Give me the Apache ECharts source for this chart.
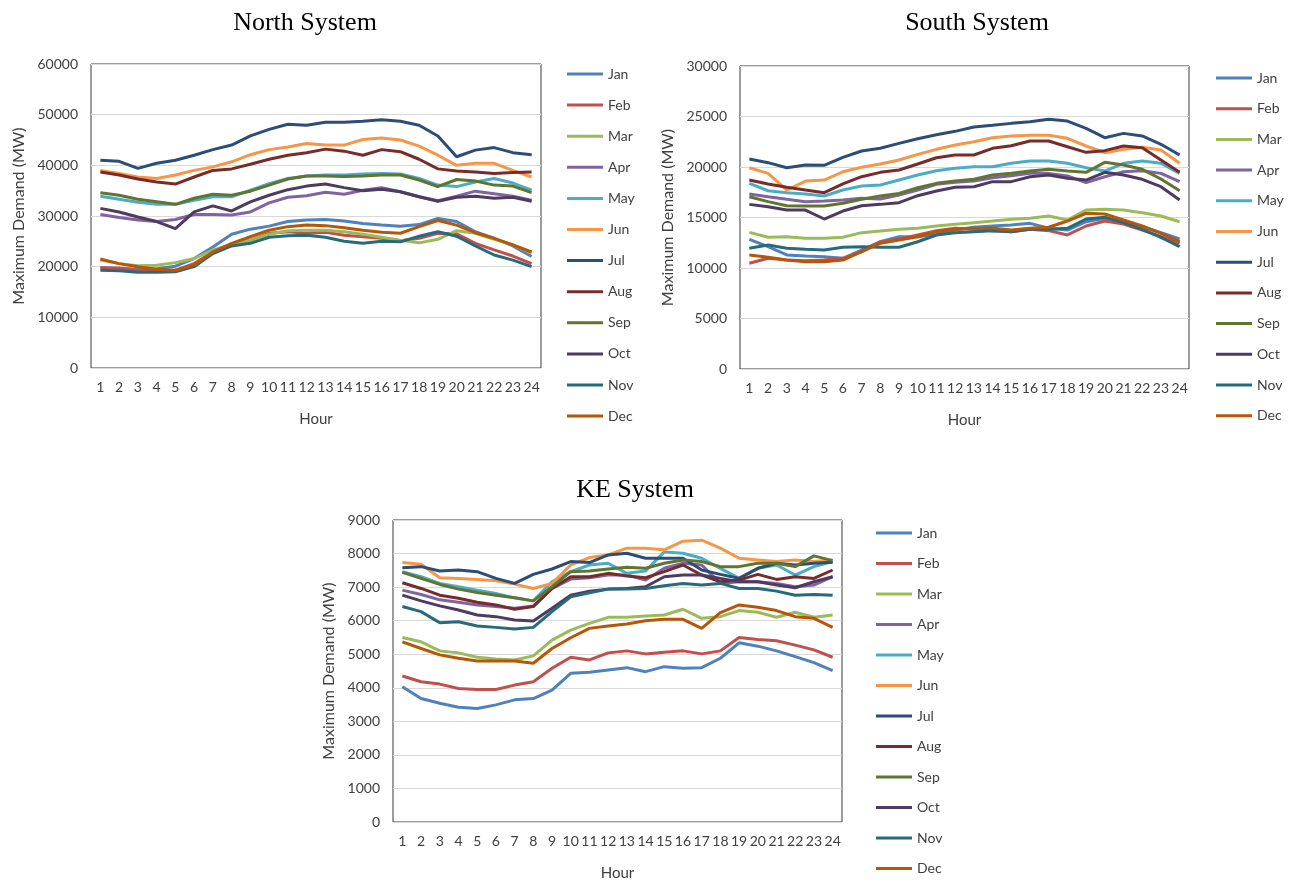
<!DOCTYPE html>
<html>
<head>
<meta charset="utf-8">
<title>Hourly Maximum Demand by Month</title>
<script src="https://cdn.jsdelivr.net/npm/echarts@6/dist/echarts.min.js"></script>
<style>
  html, body { margin: 0; padding: 0; background: #ffffff; }
  #chart { width: 1304px; height: 882px; }
</style>
</head>
<body>
<div id="chart"></div>
<script>
// Hour-of-day tick labels and month names
const hours = ['1','2','3','4','5','6','7','8','9','10','11','12','13','14','15','16','17','18','19','20','21','22','23','24'];
const months = ['Jan','Feb','Mar','Apr','May','Jun','Jul','Aug','Sep','Oct','Nov','Dec'];
const monthColors = ['#4F81BD','#C0504D','#9BBB59','#8064A2','#4BACC6','#F79646','#2C4D75','#772C2A','#5F7530','#4D3B62','#276A7C','#B65708'];

// North System, MW
const northJan = [19800,19700,19500,19600,20100,21600,23900,26400,27400,28000,28900,29200,29300,29000,28500,28200,28000,28300,29500,28900,26900,25600,24100,22000];
const northFeb = [19800,19700,19300,19200,19300,20600,22900,24300,25200,26600,26900,26600,26800,26200,25900,25600,25100,25600,26600,26500,24600,23300,22100,20600];
const northMar = [21300,20600,20200,20300,20800,21600,23300,24300,25200,26400,27100,27200,27200,26900,26400,25800,25200,24700,25400,27100,26600,25400,24300,22700];
const northApr = [30300,29700,29200,28900,29300,30300,30300,30200,30800,32600,33700,34000,34700,34300,35100,35600,34800,33800,33000,33900,34900,34400,33900,33100];
const northMay = [33900,33300,32700,32300,32300,33100,33800,33800,35100,36400,37400,37900,38100,38100,38300,38400,38300,37400,36100,35800,36700,37400,36500,35100];
const northJun = [39000,38400,37700,37400,38100,39000,39700,40700,42100,43100,43600,44300,44000,44000,45100,45400,45000,43800,42000,40000,40400,40400,39000,37700];
const northJul = [41000,40800,39400,40400,41000,42000,43100,44000,45800,47100,48100,47900,48500,48500,48700,49000,48700,47900,45800,41700,43000,43500,42500,42100];
const northAug = [38700,38100,37300,36700,36300,37700,39000,39300,40200,41200,42000,42500,43200,42800,42000,43100,42700,41200,39300,38900,38700,38400,38600,38700];
const northSep = [34600,34100,33300,32800,32300,33500,34300,34100,34900,36100,37300,37900,37900,37800,37900,38100,38100,37100,35800,37200,36900,36100,35900,34600];
const northOct = [31500,30800,29800,28900,27500,30800,32000,31000,32800,34100,35200,35900,36300,35600,35000,35300,34800,33800,32900,33700,33900,33500,33700,32900];
const northNov = [19300,19200,18900,18900,19000,20000,22600,24100,24600,25800,26100,26200,25800,25000,24600,25000,24900,26000,26900,26000,24100,22300,21300,20000];
const northDec = [21500,20600,20000,19500,19300,20300,22900,24600,25900,27200,27900,28200,28100,27700,27200,26800,26600,27900,29100,28200,26700,25600,24300,22900];

// South System, MW
const southJan = [12840,12110,11290,11190,11120,10960,11780,12600,13100,13100,13330,13760,14030,14160,14260,14420,13930,13760,14580,14920,14580,14090,13500,12870];
const southFeb = [10470,10960,10790,10720,10790,10960,11610,12600,12840,13270,13700,13930,13830,13700,13600,13830,13700,13270,14160,14650,14360,13760,13100,12440];
const southMar = [13530,13040,13100,12940,12940,13040,13500,13660,13830,13930,14160,14330,14490,14650,14820,14920,15150,14750,15740,15810,15740,15480,15150,14580];
const southApr = [17330,17060,16800,16570,16640,16730,16900,16830,17230,17720,18290,18480,18610,18940,19140,19370,19370,19110,18450,19040,19530,19630,19370,18550];
const southMay = [18380,17650,17460,17330,17130,17720,18120,18220,18710,19210,19630,19870,20030,20030,20370,20590,20590,20370,19930,19600,20370,20590,20370,19370];
const southJun = [19930,19370,17720,18610,18710,19530,19970,20300,20690,21250,21750,22180,22500,22900,23070,23140,23140,22840,22080,21420,21750,21950,21680,20370];
const southJul = [20790,20430,19930,20200,20170,20960,21580,21850,22340,22800,23200,23530,23960,24130,24320,24490,24720,24550,23830,22900,23330,23070,22250,21190];
const southAug = [18710,18320,17990,17720,17460,18320,19040,19470,19700,20300,20920,21190,21190,21850,22110,22570,22570,22010,21450,21620,22080,21910,20690,19470];
const southSep = [17060,16570,16170,16140,16140,16410,16800,17130,17390,17950,18380,18610,18780,19210,19370,19600,19770,19600,19470,20460,20200,19770,18810,17650];
const southOct = [16300,16070,15740,15740,14850,15640,16170,16300,16470,17160,17620,17990,18050,18550,18550,19040,19210,18880,18710,19470,19210,18780,18050,16730];
const southNov = [11950,12280,11950,11850,11780,12050,12110,12050,12050,12600,13270,13500,13600,13700,13600,13830,13830,13930,14850,15020,14490,13830,13040,12110];
const southDec = [11290,11060,10790,10620,10620,10790,11610,12440,12770,13100,13600,13830,13930,13930,13760,13930,14030,14650,15420,15350,14750,14160,13430,12600];

// KE System, MW
const keJan = [4030,3680,3540,3420,3380,3490,3640,3680,3930,4430,4460,4530,4600,4480,4630,4580,4600,4880,5340,5240,5100,4930,4750,4510];
const keFeb = [4350,4180,4110,3980,3950,3950,4080,4180,4580,4910,4830,5040,5100,5010,5060,5100,5010,5100,5500,5440,5400,5270,5130,4910];
const keMar = [5500,5370,5100,5040,4910,4860,4830,4950,5420,5720,5920,6100,6100,6140,6170,6340,6070,6120,6300,6250,6100,6250,6100,6170];
const keApr = [6910,6780,6620,6550,6470,6420,6370,6440,6960,7240,7280,7360,7360,7210,7560,7710,7660,7110,7160,7160,7110,7010,7060,7310];
const keMay = [7460,7310,7110,7010,6910,6810,6680,6590,7160,7460,7660,7710,7410,7480,8050,8010,7860,7560,7260,7560,7660,7360,7610,7760];
const keJun = [7730,7680,7280,7260,7230,7190,7090,6960,7110,7660,7880,7960,8160,8160,8110,8370,8400,8160,7860,7810,7760,7810,7760,7810];
const keJul = [7580,7610,7480,7510,7460,7260,7110,7380,7540,7760,7730,7960,8010,7860,7860,7860,7510,7380,7260,7560,7710,7660,7710,7740];
const keAug = [7130,6960,6760,6670,6550,6470,6340,6420,6960,7310,7310,7410,7330,7280,7460,7660,7360,7160,7210,7380,7230,7310,7260,7510];
const keSep = [7440,7260,7080,6940,6840,6760,6680,6590,7010,7460,7480,7540,7590,7560,7710,7810,7760,7610,7610,7710,7710,7610,7930,7790];
const keOct = [6760,6590,6440,6320,6170,6120,6020,5990,6370,6760,6880,6940,6960,7010,7310,7360,7360,7260,7160,7160,7060,6980,7160,7310];
const keNov = [6420,6270,5940,5970,5840,5800,5750,5800,6270,6710,6830,6940,6940,6960,7040,7110,7060,7110,6960,6960,6880,6760,6780,6760];
const keDec = [5370,5170,4980,4880,4800,4800,4800,4730,5170,5490,5770,5840,5900,6000,6040,6040,5770,6240,6470,6400,6300,6120,6070,5800];

const northData = [northJan, northFeb, northMar, northApr, northMay, northJun, northJul, northAug, northSep, northOct, northNov, northDec];
const southData = [southJan, southFeb, southMar, southApr, southMay, southJun, southJul, southAug, southSep, southOct, southNov, southDec];
const keData = [keJan, keFeb, keMar, keApr, keMay, keJun, keJul, keAug, keSep, keOct, keNov, keDec];

const FONT = 'Lato, "Open Sans", sans-serif';
const TEXT = '#404040';

// Panel layout: plot rectangle, y range, title and legend positions
const panels = [
  { title: 'North System', data: northData, grid: { left: 91, top: 64, width: 450, height: 304 }, max: 60000, interval: 10000,
    titleX: 300, titleY: 5, legendLeft: 567, legendTop: 66, legendGap: 15.1, nameGap: 64 },
  { title: 'South System', data: southData, grid: { left: 740, top: 66, width: 449, height: 303 }, max: 30000, interval: 5000,
    titleX: 972, titleY: 5, legendLeft: 1216, legendTop: 70, legendGap: 14.7, nameGap: 64 },
  { title: 'KE System', data: keData, grid: { left: 393, top: 520, width: 449, height: 302 }, max: 9000, interval: 1000,
    titleX: 630, titleY: 472, legendLeft: 876, legendTop: 525, legendGap: 14.5, nameGap: 56 }
];

const option = {
  backgroundColor: '#ffffff',
  animation: false,
  color: monthColors,
  title: [], legend: [], grid: [], xAxis: [], yAxis: [], series: []
};

panels.forEach((p, i) => {
  option.title.push({
    text: p.title, left: p.titleX, top: p.titleY, textAlign: 'center',
    textStyle: { fontFamily: '"Liberation Serif", "Times New Roman", serif', fontSize: 26, fontWeight: 'normal', color: '#000' }
  });
  option.grid.push(Object.assign({ show: true, borderColor: '#3a3a3a', borderWidth: 1, backgroundColor: '#fff' }, p.grid));
  option.xAxis.push({
    type: 'category', gridIndex: i, data: hours, boundaryGap: true,
    name: 'Hour', nameLocation: 'middle', nameGap: 44,
    nameTextStyle: { fontFamily: FONT, fontSize: 15, color: TEXT },
    axisLine: { show: false }, axisTick: { show: false },
    axisLabel: { interval: 0, margin: 12, fontFamily: FONT, fontSize: 14, color: TEXT },
    splitLine: { show: false }
  });
  option.yAxis.push({
    type: 'value', gridIndex: i, min: 0, max: p.max, interval: p.interval,
    name: 'Maximum Demand (MW)', nameLocation: 'middle', nameGap: p.nameGap,
    nameTextStyle: { fontFamily: FONT, fontSize: 16, color: TEXT },
    axisLine: { show: false }, axisTick: { show: false },
    axisLabel: { margin: 13, fontFamily: FONT, fontSize: 14, color: TEXT, formatter: v => String(v) },
    splitLine: { lineStyle: { color: '#d9d9d9', width: 1 } }
  });
  option.legend.push({
    orient: 'vertical', left: p.legendLeft, top: p.legendTop, padding: 0,
    data: months, icon: 'rect', itemWidth: 36, itemHeight: 3, itemGap: p.legendGap,
    selectedMode: false,
    textStyle: { fontFamily: FONT, fontSize: 14, color: TEXT, lineHeight: 16 }
  });
  p.data.forEach((values, m) => {
    option.series.push({
      type: 'line', name: months[m], xAxisIndex: i, yAxisIndex: i,
      data: values, symbol: 'none', smooth: false,
      lineStyle: { width: 3, color: monthColors[m] },
      itemStyle: { color: monthColors[m] }
    });
  });
});

const chart = echarts.init(document.getElementById('chart'), null, { renderer: 'canvas' });
chart.setOption(option);
</script>
</body>
</html>
